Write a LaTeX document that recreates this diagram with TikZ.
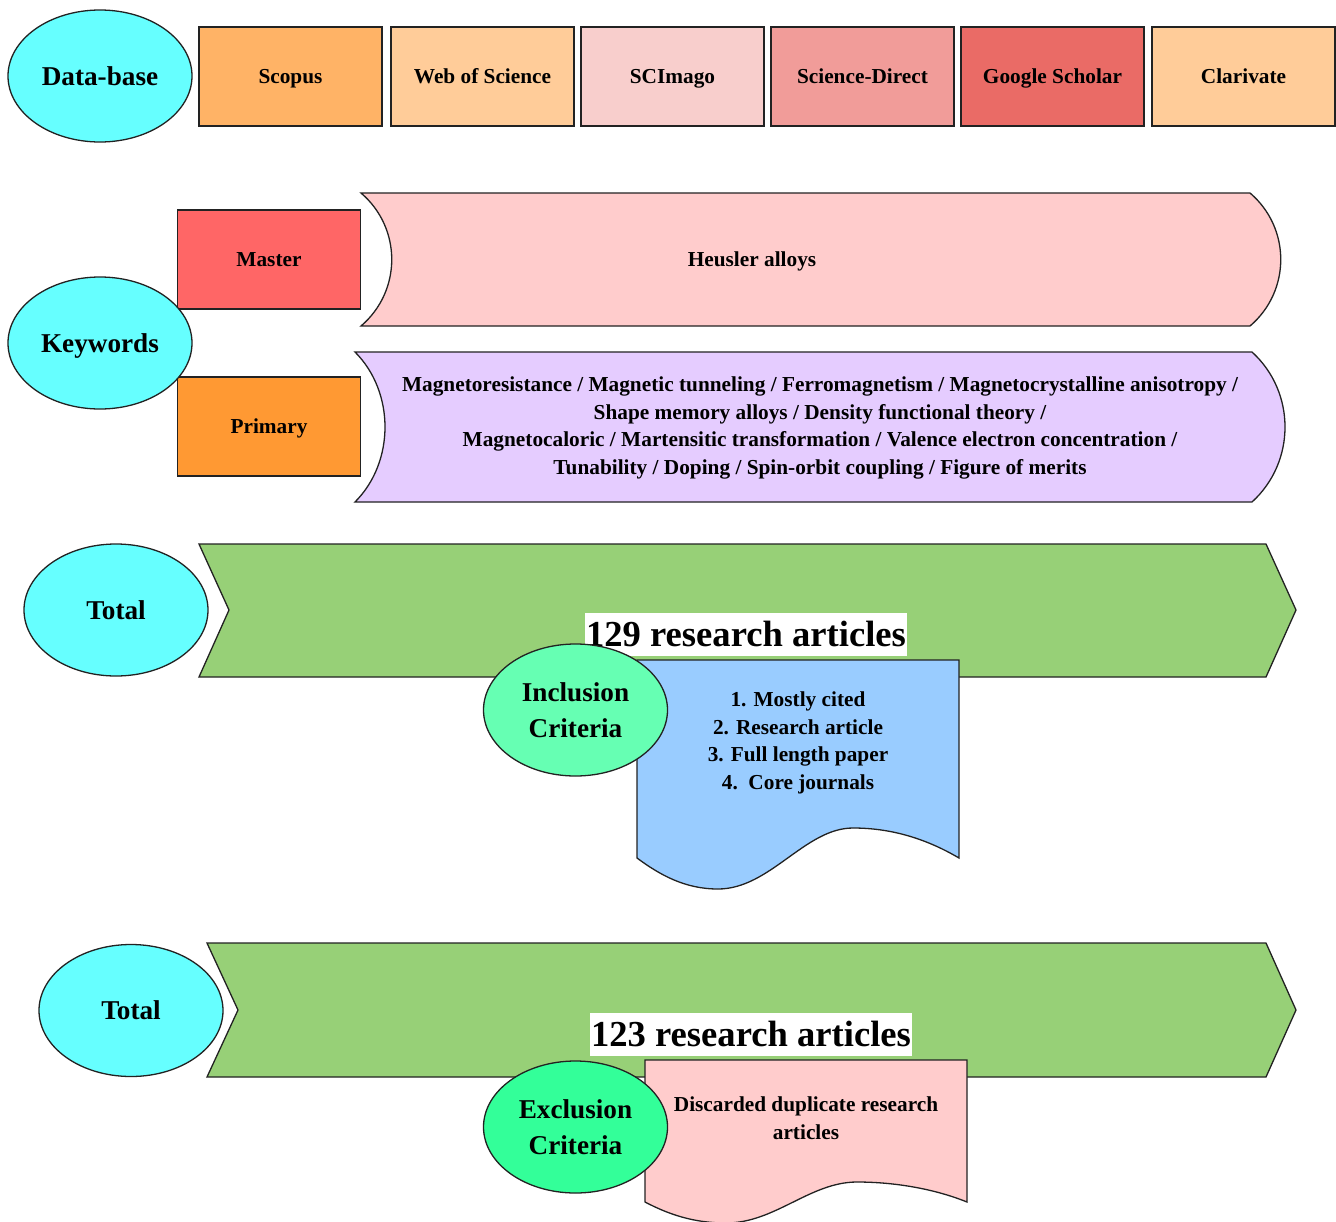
\documentclass[tikz,border=0pt]{standalone}
\usepackage{fontspec}
\setmainfont{Liberation Serif}
\usetikzlibrary{shapes.geometric}

\definecolor{cCyan}{HTML}{66FFFF}
\definecolor{cScopus}{HTML}{FFB366}
\definecolor{cPeach}{HTML}{FFCC99}
\definecolor{cRose}{HTML}{F8CECC}
\definecolor{cSalmon}{HTML}{F19C99}
\definecolor{cRed}{HTML}{EA6B66}
\definecolor{cMaster}{HTML}{FF6666}
\definecolor{cPrimary}{HTML}{FF9933}
\definecolor{cPink}{HTML}{FFCCCC}
\definecolor{cLilac}{HTML}{E5CCFF}
\definecolor{cGreen}{HTML}{97D077}
\definecolor{cMint}{HTML}{66FFB3}
\definecolor{cSky}{HTML}{99CCFF}
\definecolor{cSpring}{HTML}{33FF99}
\definecolor{cEdge}{HTML}{222222}

\tikzset{
  edge/.style={draw=cEdge, line width=1.3pt, line join=miter},
  % fixed line boxes so every single-line label sits on the same centre
  lineS/.style={text height=19pt, text depth=4.6pt},
  lineB/.style={text height=24.2pt, text depth=5.9pt},
  lineC/.style={text height=32.6pt, text depth=7.9pt},
  smalltxt/.style={font=\bfseries\fontsize{21.3}{27.7}\selectfont, align=center, inner sep=0pt},
  srcbox/.style={edge, rectangle, minimum width=183pt, minimum height=99pt, inner sep=0pt,
                 lineS, font=\bfseries\fontsize{21.3}{27.7}\selectfont},
  oval/.style={edge, ellipse, minimum width=184pt, minimum height=132pt, inner sep=0pt,
               font=\bfseries\fontsize{27.2}{36}\selectfont, align=center},
  countlabel/.style={fill=white, inner xsep=1pt, inner ysep=0pt, minimum height=43pt,
                     lineC, font=\bfseries\fontsize{36.6}{40}\selectfont},
}

\begin{document}
\begin{tikzpicture}[x=1pt, y=-1pt]
\useasboundingbox (0,0) rectangle (1336,1221);
\fill[white] (0,0) rectangle (1336,1221);

% ---- databases ----
\node[oval, lineB, fill=cCyan] (db) at (100,76) {Data-base};
\node[srcbox, fill=cScopus] (scopus) at (290.5,76.5) {Scopus};
\node[srcbox, fill=cPeach]  (wos)    at (482.5,76.5) {Web of Science};
\node[srcbox, fill=cRose]   (scim)   at (672.5,76.5) {SCImago};
\node[srcbox, fill=cSalmon] (sd)     at (862.5,76.5) {Science-Direct};
\node[srcbox, fill=cRed]    (gs)     at (1052.5,76.5) {Google Scholar};
\node[srcbox, fill=cPeach]  (clar)   at (1243.5,76.5) {Clarivate};

% ---- keywords ----
\node[srcbox, fill=cMaster]  (master)  at (269,259.5) {Master};
\node[srcbox, fill=cPrimary] (primary) at (269,426.5) {Primary};
\node[oval, lineB, fill=cCyan] (kw) at (100,343) {Keywords};

\path[edge, fill=cPink] (361,193) -- (1250,193)
  .. controls (1291,228) and (1291,291) .. (1250,326)
  -- (361,326)
  .. controls (402,291) and (402,228) .. cycle;
\node[smalltxt, lineS] (heusler) at (752,259.5) {Heusler alloys};

\path[edge, fill=cLilac] (355,352) -- (1252,352)
  .. controls (1296,392) and (1296,462) .. (1252,502)
  -- (355,502)
  .. controls (395,462) and (395,392) .. cycle;
\node[smalltxt] (terms) at (820,428) {Magnetoresistance / Magnetic tunneling / Ferromagnetism / Magnetocrystalline anisotropy /\\
Shape memory alloys / Density functional theory /\\
Magnetocaloric / Martensitic transformation / Valence electron concentration /\\
Tunability / Doping / Spin-orbit coupling / Figure of merits};

% ---- first total ----
\node[oval, lineB, fill=cCyan] (total1) at (116,610) {Total};
\path[edge, fill=cGreen] (199,544) -- (1266,544) -- (1296,610) -- (1266,677)
  -- (199,677) -- (229,610) -- cycle;
\node[countlabel] (n129) at (746,634.5) {129 research articles};

\path[edge, fill=cSky] (637,660) -- (959,660) -- (959,858)
  .. controls (925,838) and (890,828) .. (853,828)
  .. controls (805,828) and (770,889) .. (718,889)
  .. controls (685,889) and (660,875) .. (637,858) -- cycle;
\node[smalltxt] (incl) at (798,743) {1. Mostly cited\\2. Research article\\3. Full length paper\\4.\ \ Core journals};
\node[oval, fill=cMint] (inclusion) at (575.5,710) {Inclusion\\Criteria};

% ---- second total ----
\node[oval, lineB, fill=cCyan] (total2) at (131,1010.5) {Total};
\path[edge, fill=cGreen] (207,943) -- (1266,943) -- (1296,1010) -- (1266,1077)
  -- (207,1077) -- (238,1010) -- cycle;
\node[countlabel] (n123) at (751,1034.5) {123 research articles};

\path[edge, fill=cPink] (645,1060) -- (967,1060) -- (967,1202)
  .. controls (935,1189) and (895,1182) .. (857,1182)
  .. controls (810,1182) and (775,1223) .. (726,1223)
  .. controls (693,1223) and (668,1214) .. (645,1202) -- cycle;
\node[smalltxt] (excl) at (806,1118) {Discarded duplicate research\\articles};
\node[oval, fill=cSpring] (exclusion) at (575.5,1127) {Exclusion\\Criteria};
\end{tikzpicture}
\end{document}
